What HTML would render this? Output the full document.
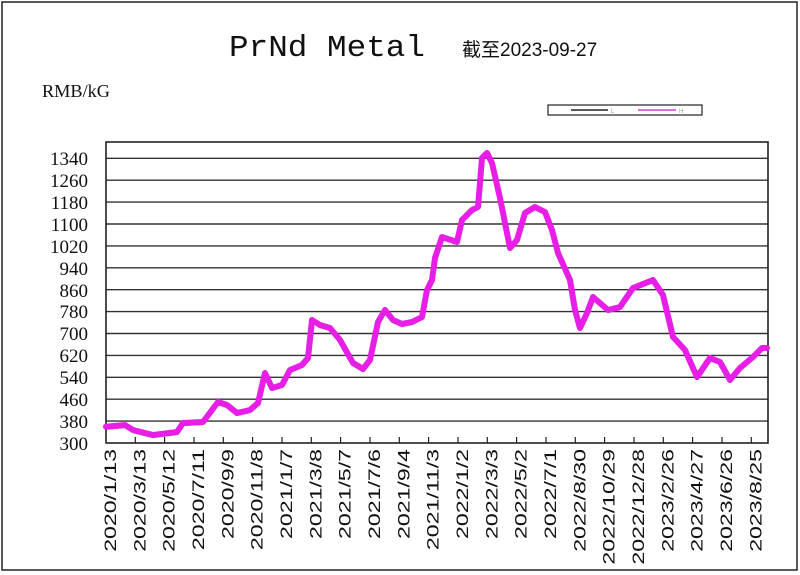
<!DOCTYPE html>
<html><head><meta charset="utf-8"><style>
html,body{margin:0;padding:0;background:#fff}
svg{display:block}
</style></head><body>
<svg width="800" height="575" xmlns="http://www.w3.org/2000/svg">
<rect x="2" y="2" width="795" height="568" fill="#fff" stroke="#222" stroke-width="1.5"/>
<text x="229" y="56" font-family="Liberation Mono, monospace" font-size="31" fill="#111" textLength="196" lengthAdjust="spacingAndGlyphs">PrNd Metal</text>
<text x="462" y="56" font-family="Liberation Sans, Noto Sans CJK SC, sans-serif" font-size="19" fill="#111">截至2023-09-27</text>
<text x="42" y="97" font-family="Liberation Serif, serif" font-size="18" fill="#111" textLength="68" lengthAdjust="spacingAndGlyphs">RMB/kG</text>
<rect x="548" y="105" width="154" height="10" fill="#fff" stroke="#222" stroke-width="1.2"/>
<line x1="571" y1="110" x2="608" y2="110" stroke="#223" stroke-width="1.5"/>
<text x="611" y="113" font-size="6" fill="#999" font-family="Liberation Sans">L</text>
<line x1="638" y1="110" x2="676" y2="110" stroke="#d040d0" stroke-width="1.5"/>
<text x="679" y="113" font-size="6" fill="#999" font-family="Liberation Sans">H</text>
<g stroke="#333" stroke-width="1.4">
<line x1="106" y1="158.3" x2="768" y2="158.3"/>
<line x1="106" y1="180.2" x2="768" y2="180.2"/>
<line x1="106" y1="202.1" x2="768" y2="202.1"/>
<line x1="106" y1="224" x2="768" y2="224"/>
<line x1="106" y1="245.9" x2="768" y2="245.9"/>
<line x1="106" y1="267.8" x2="768" y2="267.8"/>
<line x1="106" y1="289.7" x2="768" y2="289.7"/>
<line x1="106" y1="311.6" x2="768" y2="311.6"/>
<line x1="106" y1="333.5" x2="768" y2="333.5"/>
<line x1="106" y1="355.4" x2="768" y2="355.4"/>
<line x1="106" y1="377.3" x2="768" y2="377.3"/>
<line x1="106" y1="399.2" x2="768" y2="399.2"/>
<line x1="106" y1="421.1" x2="768" y2="421.1"/>
</g>
<rect x="106" y="142" width="662" height="301" fill="none" stroke="#222" stroke-width="1.6"/>
<g stroke="#222" stroke-width="1.2">
<line x1="135.3" y1="443" x2="135.3" y2="437"/><line x1="164.6" y1="443" x2="164.6" y2="437"/><line x1="194" y1="443" x2="194" y2="437"/><line x1="223.3" y1="443" x2="223.3" y2="437"/><line x1="252.6" y1="443" x2="252.6" y2="437"/><line x1="282" y1="443" x2="282" y2="437"/><line x1="311.3" y1="443" x2="311.3" y2="437"/><line x1="340.6" y1="443" x2="340.6" y2="437"/><line x1="370" y1="443" x2="370" y2="437"/><line x1="399.3" y1="443" x2="399.3" y2="437"/><line x1="428.6" y1="443" x2="428.6" y2="437"/><line x1="458" y1="443" x2="458" y2="437"/><line x1="487.3" y1="443" x2="487.3" y2="437"/><line x1="516.6" y1="443" x2="516.6" y2="437"/><line x1="546" y1="443" x2="546" y2="437"/><line x1="575.3" y1="443" x2="575.3" y2="437"/><line x1="604.6" y1="443" x2="604.6" y2="437"/><line x1="634" y1="443" x2="634" y2="437"/><line x1="663.3" y1="443" x2="663.3" y2="437"/><line x1="692.6" y1="443" x2="692.6" y2="437"/><line x1="722" y1="443" x2="722" y2="437"/><line x1="751.3" y1="443" x2="751.3" y2="437"/>
</g>
<g font-family="Liberation Serif, serif" font-size="19" fill="#111" text-anchor="end">
<text x="88" y="165">1340</text><text x="88" y="187">1260</text><text x="88" y="209">1180</text><text x="88" y="231">1100</text><text x="88" y="253">1020</text><text x="88" y="275">940</text><text x="88" y="297">860</text><text x="88" y="318">780</text><text x="88" y="340">700</text><text x="88" y="362">620</text><text x="88" y="384">540</text><text x="88" y="406">460</text><text x="88" y="428">380</text><text x="88" y="450">300</text>
</g>
<g font-family="Liberation Sans, sans-serif" font-size="17" fill="#111" text-anchor="end">
<text transform="translate(116,449) rotate(-90) scale(1.36,1)">2020/1/13</text>
<text transform="translate(145.3,449) rotate(-90) scale(1.36,1)">2020/3/13</text>
<text transform="translate(174.6,449) rotate(-90) scale(1.36,1)">2020/5/12</text>
<text transform="translate(204,449) rotate(-90) scale(1.36,1)">2020/7/11</text>
<text transform="translate(233.3,449) rotate(-90) scale(1.36,1)">2020/9/9</text>
<text transform="translate(262.6,449) rotate(-90) scale(1.36,1)">2020/11/8</text>
<text transform="translate(292,449) rotate(-90) scale(1.36,1)">2021/1/7</text>
<text transform="translate(321.3,449) rotate(-90) scale(1.36,1)">2021/3/8</text>
<text transform="translate(350.6,449) rotate(-90) scale(1.36,1)">2021/5/7</text>
<text transform="translate(380,449) rotate(-90) scale(1.36,1)">2021/7/6</text>
<text transform="translate(409.3,449) rotate(-90) scale(1.36,1)">2021/9/4</text>
<text transform="translate(438.6,449) rotate(-90) scale(1.36,1)">2021/11/3</text>
<text transform="translate(468,449) rotate(-90) scale(1.36,1)">2022/1/2</text>
<text transform="translate(497.3,449) rotate(-90) scale(1.36,1)">2022/3/3</text>
<text transform="translate(526.6,449) rotate(-90) scale(1.36,1)">2022/5/2</text>
<text transform="translate(556,449) rotate(-90) scale(1.36,1)">2022/7/1</text>
<text transform="translate(585.3,449) rotate(-90) scale(1.36,1)">2022/8/30</text>
<text transform="translate(614.6,449) rotate(-90) scale(1.36,1)">2022/10/29</text>
<text transform="translate(644,449) rotate(-90) scale(1.36,1)">2022/12/28</text>
<text transform="translate(673.3,449) rotate(-90) scale(1.36,1)">2023/2/26</text>
<text transform="translate(702.6,449) rotate(-90) scale(1.36,1)">2023/4/27</text>
<text transform="translate(732,449) rotate(-90) scale(1.36,1)">2023/6/26</text>
<text transform="translate(761.3,449) rotate(-90) scale(1.36,1)">2023/8/25</text>
</g>
<g fill="none" stroke-linejoin="round" stroke-linecap="round">
<polyline stroke="#2a2a60" stroke-width="3" transform="translate(0,1.5)" points="106,426.7 125,425 133,430 153,435 177,432 183,423 203,422 218,402 227,405 237,413 250,410 258,403 265,373 272,388 282,385 290,370 302,365 308,358 312,320 320,325 330,328 340,340 353,363 363,369 370,360 378,322 385,310 393,320 402,324 412,322 422,317 427,290 432,280 435,258 442,237 457,242 462,220 472,210 478,207 482,158 487,153 492,163 500,198 507,233 510,248 517,240 525,213 535,207 545,212 552,230 558,253 570,280 575,310 580,328 587,313 593,297 608,310 620,307 633,288 653,280 663,295 673,337 685,350 697,377 710,358 720,362 730,380 740,368 753,357 762,348 767,348"/>
<polyline stroke="#e61ee6" stroke-width="6" points="106,426.7 125,425 133,430 153,435 177,432 183,423 203,422 218,402 227,405 237,413 250,410 258,403 265,373 272,388 282,385 290,370 302,365 308,358 312,320 320,325 330,328 340,340 353,363 363,369 370,360 378,322 385,310 393,320 402,324 412,322 422,317 427,290 432,280 435,258 442,237 457,242 462,220 472,210 478,207 482,158 487,153 492,163 500,198 507,233 510,248 517,240 525,213 535,207 545,212 552,230 558,253 570,280 575,310 580,328 587,313 593,297 608,310 620,307 633,288 653,280 663,295 673,337 685,350 697,377 710,358 720,362 730,380 740,368 753,357 762,348 767,348"/>
</g>
</svg>
</body></html>
